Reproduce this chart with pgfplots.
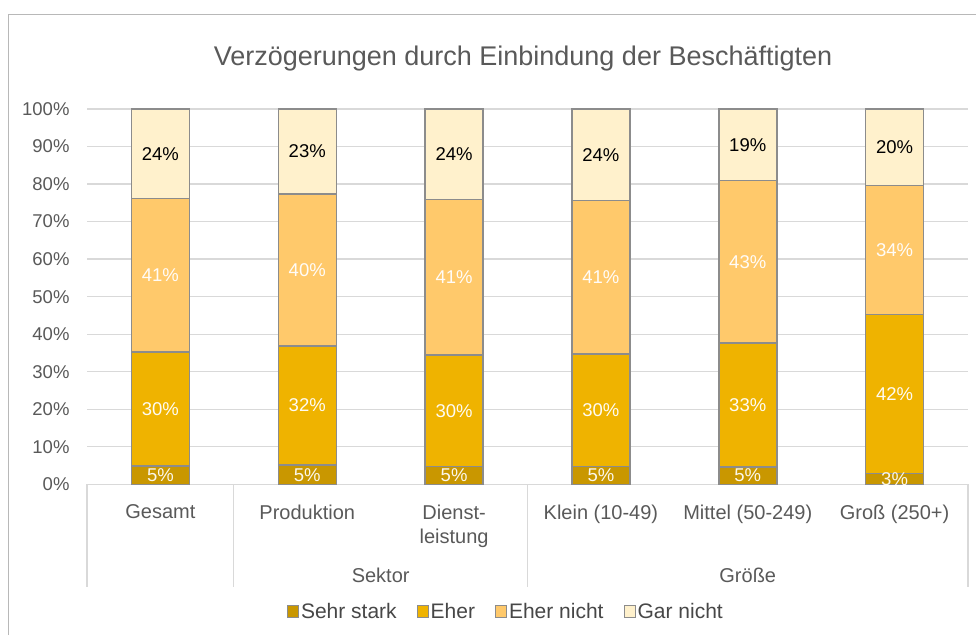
\documentclass[border=0pt]{standalone}
\usepackage{pgfplots}
\pgfplotsset{compat=1.18}
\usepackage{fontspec}
\setmainfont{Liberation Sans}
\definecolor{cSS}{HTML}{C99700}
\definecolor{cE}{HTML}{EFB300}
\definecolor{cEN}{HTML}{FFC96B}
\definecolor{cGN}{HTML}{FFF1CC}
\definecolor{txt}{HTML}{595959}
\definecolor{gridc}{HTML}{D9D9D9}
\definecolor{edge}{HTML}{8C8C8C}
\begin{document}
\begin{tikzpicture}
\useasboundingbox (0,0) rectangle (976pt,635pt);
\draw[color=gridc!85!black, line width=1pt] (8pt,0pt) -- (8pt,620pt) -- (976pt,620pt);
\node[text=txt, font=\fontsize{27}{32}\selectfont] at (523pt,576pt) {Verzögerungen durch Einbindung der Beschäftigten};
\begin{axis}[
  at={(87pt,150.7pt)}, anchor=south west,
  scale only axis, width=881pt, height=375.3pt,
  ybar stacked, bar width=58pt,
  xmin=-0.5, xmax=5.5, ymin=0, ymax=100,
  clip=false,
  xtick={0,...,5},
  xticklabels={Gesamt, Produktion, Dienst-\\leistung, Klein (10-49), Mittel (50-249), Groß (250+)},
  xticklabel style={align=center, anchor=north, yshift=-17pt, text=txt, font=\fontsize{20}{24}\selectfont},
  ytick={0,10,...,100},
  yticklabel={\pgfmathprintnumber{\tick}\%},
  yticklabel style={text=txt, font=\fontsize{18.5}{20}\selectfont, xshift=-14pt},
  /pgf/number format/assume math mode=true,
  major tick length=0pt,
  ymajorgrids, grid style={gridc, line width=1.3pt},
  axis line style={draw=none},
  point meta=rawy,
  nodes near coords={\pgfmathprintnumber[fixed,precision=0]{\pgfplotspointmeta}\%},
  every node near coord/.append style={anchor=center, font=\fontsize{18.5}{20}\selectfont},
  legend style={at={(0.4755,-0.340)}, anchor=center, legend columns=4, draw=none, fill=none,
    font=\fontsize{21}{24}\selectfont, text=txt!80!black,
    /tikz/every even column/.append style={column sep=18pt}},
  legend image code/.code={\draw[#1, line width=1pt] (0pt,-6pt) rectangle (11pt,6pt);},
]
\addplot[fill=cSS, draw=edge, line width=1.5pt, every node near coord/.append style={text=white!92!cSS}] coordinates {(0,4.9) (1,5.1) (2,4.7) (3,4.8) (4,4.6) (5,2.9)};
\addplot[fill=cE, draw=edge, line width=1.5pt, every node near coord/.append style={text=white!95!cE}] coordinates {(0,30.3) (1,31.8) (2,29.8) (3,29.9) (4,33.0) (5,42.4)};
\addplot[fill=cEN, draw=edge, line width=1.5pt, every node near coord/.append style={text=white!95!cEN}] coordinates {(0,41.0) (1,40.4) (2,41.4) (3,40.9) (4,43.4) (5,34.3)};
\addplot[fill=cGN, draw=edge, line width=1.5pt, every node near coord/.append style={text=black}] coordinates {(0,23.8) (1,22.7) (2,24.1) (3,24.4) (4,19.0) (5,20.4)};
\legend{Sehr stark, Eher, Eher nicht, Gar nicht}
\draw[gridc, line width=1.3pt] (axis cs:-0.5,0) -- ++(0pt,-103pt);
\draw[gridc, line width=1.3pt] (axis cs:0.5,0) -- ++(0pt,-103pt);
\draw[gridc, line width=1.3pt] (axis cs:2.5,0) -- ++(0pt,-103pt);
\draw[gridc, line width=1.3pt] (axis cs:5.5,0) -- ++(0pt,-103pt);
\node[text=txt, font=\fontsize{20}{22}\selectfont] at (axis cs:1.5,0) [yshift=-91pt] {Sektor};
\node[text=txt, font=\fontsize{20}{22}\selectfont] at (axis cs:4,0) [yshift=-91pt] {Größe};
\end{axis}
\end{tikzpicture}
\end{document}
